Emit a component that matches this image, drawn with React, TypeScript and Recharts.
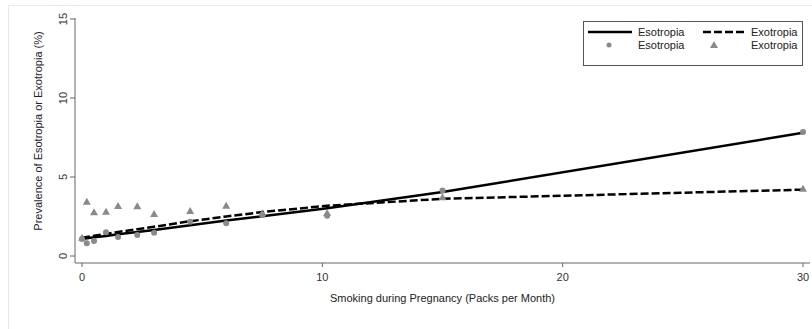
import React from 'react';
import {
  ComposedChart,
  Line,
  Scatter,
  XAxis,
  YAxis,
} from 'recharts';

// smoking exposure (packs per month)
const X_OBS = [0, 0.2, 0.5, 1, 1.5, 2.3, 3, 4.5, 6, 7.5, 10.2, 15, 30];
const ESO_OBS = [1.08, 0.8, 0.95, 1.5, 1.2, 1.33, 1.47, 2.17, 2.07, 2.59, 2.55, 4.15, 7.85];
const EXO_OBS = [1.15, 3.44, 2.77, 2.8, 3.16, 3.15, 2.66, 2.85, 3.18, 2.7, 2.72, 3.72, 4.25];

// fitted prevalence
const X_FIT = [0, 0.5, 1, 1.5, 2.3, 3, 4.5, 6, 7.5, 10.2, 15, 30];
const ESO_FIT = [1.08, 1.18, 1.27, 1.37, 1.52, 1.65, 1.95, 2.25, 2.52, 3.02, 4.05, 7.8];
const EXO_FIT = [1.15, 1.28, 1.4, 1.52, 1.7, 1.85, 2.2, 2.5, 2.78, 3.18, 3.62, 4.2];

const X_TICKS = [0, 10, 20, 30];
const Y_TICKS = [0, 5, 10, 15];

const FONT = '"Liberation Sans", Arial, sans-serif';
const MARKER = '#8a8a8a';
const AXIS = '#666';

const fitData = X_FIT.map((x, i) => ({ x, eso: ESO_FIT[i], exo: EXO_FIT[i] }));
const esoPoints = X_OBS.map((x, i) => ({ x, y: ESO_OBS[i] }));
const exoPoints = X_OBS.map((x, i) => ({ x, y: EXO_OBS[i] }));

const Dot = (props: any) => (
  <circle cx={props.cx} cy={props.cy} r={3} fill={MARKER} />
);

const Tri = (props: any) => {
  const { cx, cy } = props;
  return (
    <path
      d={`M${cx},${cy - 4} L${cx + 4},${cy + 3} L${cx - 4},${cy + 3} Z`}
      fill={MARKER}
    />
  );
};

const YTick = (props: any) => {
  const { x, y, payload } = props;
  const tx = x - 1;
  return (
    <text
      x={tx}
      y={y}
      transform={`rotate(-90, ${tx}, ${y})`}
      textAnchor="middle"
      fontSize={11}
      fontFamily={FONT}
      fill="#333"
    >
      {payload.value}
    </text>
  );
};

const YTitle = () => (
  <text
    x={42}
    y={131}
    transform="rotate(-90, 42, 131)"
    textAnchor="middle"
    fontSize={11}
    fontFamily={FONT}
    fill="#222"
  >
    Prevalence of Esotropia or Exotropia (%)
  </text>
);

function Legend() {
  return (
    <svg
      width={220}
      height={45}
      style={{ position: 'absolute', left: 583, top: 21, fontFamily: FONT }}
    >
      <rect x={0.5} y={0.5} width={219} height={44} fill="#fff" stroke="#555" />
      <line x1={5} y1={11} x2={49} y2={11} stroke="#000" strokeWidth={2.5} />
      <text x={55} y={15} fontSize={11} fill="#222">Esotropia</text>
      <line x1={120} y1={11} x2={162} y2={11} stroke="#000" strokeWidth={2.5} strokeDasharray="8 3" />
      <text x={168} y={15} fontSize={11} fill="#222">Exotropia</text>
      <circle cx={26} cy={24} r={2.5} fill={MARKER} />
      <text x={55} y={28} fontSize={11} fill="#222">Esotropia</text>
      <path d="M131,20 L135,27 L127,27 Z" fill={MARKER} />
      <text x={168} y={28} fontSize={11} fill="#222">Exotropia</text>
    </svg>
  );
}

export default function App() {
  return (
    <div
      style={{
        position: 'absolute',
        left: 0,
        top: 0,
        width: 812,
        height: 329,
        background: '#fff',
        overflow: 'hidden',
      }}
    >
      <div
        style={{
          position: 'absolute',
          left: 8,
          top: 5,
          width: 812,
          height: 340,
          borderLeft: '1px solid #e3ebeb',
          borderTop: '1px solid #e3ebeb',
        }}
      />
      <ComposedChart
        width={812}
        height={329}
        data={fitData}
        margin={{ top: 18, right: 2, bottom: 0, left: 0 }}
      >
        <XAxis
          dataKey="x"
          type="number"
          domain={[0, 30]}
          ticks={X_TICKS}
          padding={{ left: 7, right: 7 }}
          height={66}
          stroke={AXIS}
          tickSize={4}
          tickMargin={6}
          tick={{ fontSize: 11, fontFamily: FONT, fill: '#333' }}
          label={{
            value: 'Smoking during Pregnancy (Packs per Month)',
            position: 'insideBottom',
            offset: 27,
            fontSize: 11,
            fontFamily: FONT,
            fill: '#222',
          }}
        />
        <YAxis
          type="number"
          domain={[0, 15]}
          ticks={Y_TICKS}
          padding={{ top: 1, bottom: 7 }}
          width={75}
          stroke={AXIS}
          tickSize={5}
          tick={<YTick />}
          label={{ content: () => <YTitle /> }}
        />
        <Scatter data={esoPoints} dataKey="y" shape={<Dot />} isAnimationActive={false} />
        <Scatter data={exoPoints} dataKey="y" shape={<Tri />} isAnimationActive={false} />
        <Line
          dataKey="eso"
          stroke="#000"
          strokeWidth={2.5}
          dot={false}
          activeDot={false}
          isAnimationActive={false}
        />
        <Line
          dataKey="exo"
          stroke="#000"
          strokeWidth={2.5}
          strokeDasharray="8 3"
          dot={false}
          activeDot={false}
          isAnimationActive={false}
        />
      </ComposedChart>
      <Legend />
    </div>
  );
}
